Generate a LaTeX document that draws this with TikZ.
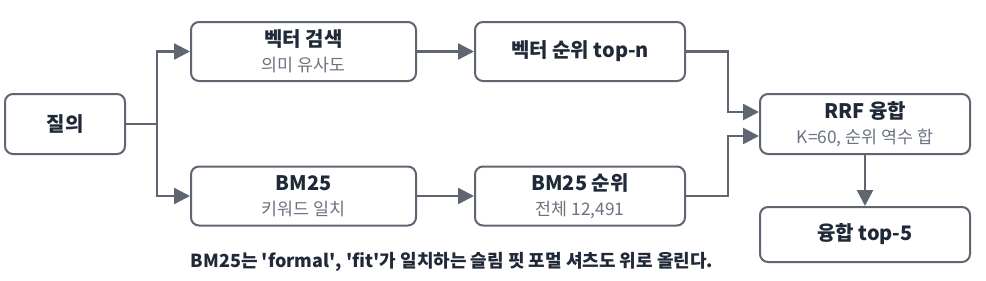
\documentclass[tikz,border=0pt]{standalone}
\usepackage{fontspec}
\setmainfont{Noto Sans CJK KR}
\definecolor{mSlate}{HTML}{5F6672}
\definecolor{mInk}{HTML}{1F2937}
\definecolor{mMute}{HTML}{6B7280}
\usepackage{tikz}
\usetikzlibrary{arrows.meta, positioning}

\tikzset{
  stage/.style={draw=mSlate, line width=1.5pt, rounded corners=6pt, fill=white,
    text=mInk, align=center, inner sep=0pt, font=\fontsize{15}{19}\selectfont},
  flow/.style={draw=mSlate, line width=1.8pt,
    -{Triangle[length=12pt, width=12pt]}},
  wire/.style={draw=mSlate, line width=1.8pt}
}
\newcommand{\sub}[1]{{\color{mMute}\fontsize{13}{19}\selectfont #1}}

\begin{document}
\begin{tikzpicture}[x=0.75pt, y=-0.75pt]
\useasboundingbox (0,0) rectangle (986,280);

\node[stage, minimum width=90pt, minimum height=45pt] (query) at (65,124)
  {\bfseries 질의};
\node[stage, minimum width=168.75pt, minimum height=44.25pt] (vsearch) at (303.5,51.5)
  {\bfseries 벡터 검색\\ \sub{의미 유사도}};
\node[stage, minimum width=168.75pt, minimum height=44.25pt] (bsearch) at (303.5,196)
  {\bfseries BM25\\ \sub{키워드 일치}};
\node[stage, minimum width=157.5pt, minimum height=44.25pt] (vrank) at (580,51.5)
  {\bfseries 벡터 순위 top-n};
\node[stage, minimum width=157.5pt, minimum height=44.25pt] (brank) at (580,196)
  {\bfseries BM25 순위\\ \sub{전체 12,491}};
\node[stage, minimum width=157.5pt, minimum height=45pt] (rrf) at (865,124)
  {\bfseries RRF 융합\\ \sub{K=60, 순위 역수 합}};
\node[stage, minimum width=157.5pt, minimum height=41.25pt] (top) at (865,234.5)
  {\bfseries 융합 top-5};

\node[text=mInk, font=\fontsize{13.5}{16}\selectfont\bfseries] (note) at (452,262)
  {BM25는 \textquotesingle formal\textquotesingle, \textquotesingle fit\textquotesingle 가 일치하는 슬림 핏 포멀 셔츠도 위로 올린다.};

% branch out of the query
\coordinate (split) at (157,124);
\draw[wire] (query.east) -- (split);
\draw[flow] (split) |- (vsearch.west);
\draw[flow] (split) |- (bsearch.west);

\draw[flow] (vsearch.east) -- (vrank.west);
\draw[flow] (bsearch.east) -- (brank.west);

% merge into RRF
\draw[flow] (vrank.east) -- ++(42,0) |- ([yshift=9pt]rrf.west);
\draw[flow] (brank.east) -- ++(42,0) |- ([yshift=-9pt]rrf.west);
\draw[flow] (rrf.south) -- (top.north);
\end{tikzpicture}
\end{document}
